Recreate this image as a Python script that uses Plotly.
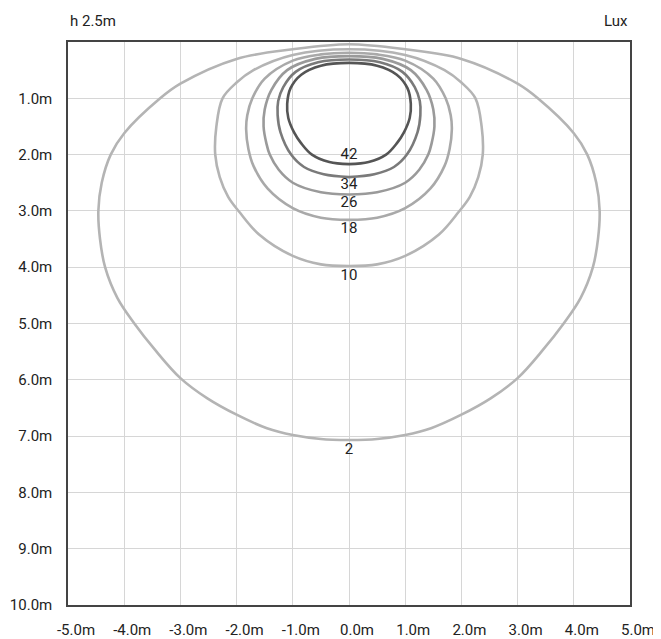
import plotly.graph_objects as go

# Isolux levels (lux) and their line colours
levels = [2, 10, 18, 26, 34, 42]
colors = ["#b4b4b4", "#b4b4b4", "#a9a9a9", "#9a9a9a", "#7a7a7a", "#555555"]

# Right-half profiles of each isolux curve (x in m, depth y in m), top centre -> bottom centre
xr_2 = [0, 1.0, 2.0, 3.0, 3.36, 4.0, 4.24, 4.40, 4.46, 4.43, 4.34, 4.12, 3.82, 3.45, 3.0, 2.52, 2.0, 1.46, 1.0, 0.5, 0]
y_2 = [0.04, 0.13, 0.30, 0.74, 1.0, 1.62, 2.0, 2.5, 3.0, 3.5, 4.0, 4.55, 5.0, 5.47, 5.97, 6.33, 6.62, 6.86, 6.98, 7.05, 7.07]

xr_10 = [0, 1.0, 1.7, 2.0, 2.25, 2.36, 2.38, 2.30, 2.15, 1.95, 1.6, 1.0, 0.5, 0]
y_10 = [0.13, 0.23, 0.50, 0.72, 1.0, 1.5, 2.0, 2.4, 2.75, 3.02, 3.42, 3.80, 3.95, 3.98]

xr_18 = [0, 0.5, 1.0, 1.5, 1.72, 1.81, 1.83, 1.79, 1.70, 1.45, 1.0, 0.5, 0]
y_18 = [0.19, 0.22, 0.33, 0.65, 1.0, 1.3, 1.55, 1.9, 2.2, 2.6, 2.95, 3.12, 3.16]

xr_26 = [0, 0.6, 1.1, 1.38, 1.50, 1.52, 1.47, 1.41, 1.25, 1.0, 0.5, 0]
y_26 = [0.25, 0.30, 0.50, 0.85, 1.2, 1.5, 1.8, 2.0, 2.27, 2.5, 2.67, 2.71]

xr_34 = [0, 0.55, 0.95, 1.17, 1.26, 1.27, 1.22, 1.03, 0.80, 0.45, 0]
y_34 = [0.31, 0.36, 0.53, 0.80, 1.05, 1.3, 1.6, 2.0, 2.22, 2.35, 2.40]

xr_42 = [0, 0.5, 0.85, 1.04, 1.10, 1.08, 0.98, 0.85, 0.66, 0.35, 0]
y_42 = [0.37, 0.42, 0.58, 0.82, 1.1, 1.35, 1.6, 1.8, 2.0, 2.13, 2.17]

profiles = [(xr_2, y_2), (xr_10, y_10), (xr_18, y_18), (xr_26, y_26), (xr_34, y_34), (xr_42, y_42)]

# Label positions (depth, m) at x = 0
label_x = [0, 0, 0, 0, 0, 0]
label_y = [7.25, 4.16, 3.33, 2.87, 2.55, 2.02]

x_ticks = [-5, -4, -3, -2, -1, 0, 1, 2, 3, 4, 5]
x_ticktext = ["-5.0m", "-4.0m", "-3.0m", "-2.0m", "-1.0m", "0.0m", "1.0m", "2.0m", "3.0m", "4.0m", "5.0m"]
y_ticks = [1, 2, 3, 4, 5, 6, 7, 8, 9, 10]
y_ticktext = ["1.0m", "2.0m", "3.0m", "4.0m", "5.0m", "6.0m", "7.0m", "8.0m", "9.0m", "10.0m"]

FONT = "Roboto"
TXT = "#222222"
FS = 15

fig = go.Figure()
for (xr, yy), c in zip(profiles, colors):
    xs = [-v for v in xr] + xr[::-1]
    ys = list(yy) + yy[::-1]
    fig.add_trace(go.Scatter(x=xs, y=ys, mode="lines",
                             line=dict(color=c, width=2.6, shape="spline", smoothing=1.0),
                             hoverinfo="skip"))

fig.add_trace(go.Scatter(x=label_x, y=label_y, mode="text",
                         text=[str(v) for v in levels],
                         textfont=dict(family=FONT, size=FS, color=TXT),
                         hoverinfo="skip"))

# page body has an 8px default margin, so the figure is sized/margined to compensate
fig.update_layout(
    width=653, height=631,
    margin=dict(l=60, r=31, t=34, b=34),
    paper_bgcolor="white", plot_bgcolor="white",
    showlegend=False, hovermode=False,
    font=dict(family=FONT, size=FS, color=TXT),
    xaxis=dict(range=[-5, 5], tickvals=x_ticks, ticktext=x_ticktext,
               showgrid=True, gridcolor="#d6d6d6", gridwidth=1,
               showline=True, linecolor="#444444", linewidth=1.5, mirror=True,
               zeroline=False, ticks="", ticklabelstandoff=10, ticklabelshift=8,
               automargin=False,
               tickfont=dict(family=FONT, size=FS, color=TXT), fixedrange=True),
    yaxis=dict(range=[10, 0], tickvals=y_ticks, ticktext=y_ticktext,
               showgrid=True, gridcolor="#d6d6d6", gridwidth=1,
               showline=True, linecolor="#444444", linewidth=1.5, mirror=True,
               zeroline=False, ticks="", ticklabelstandoff=11,
               automargin=False,
               tickfont=dict(family=FONT, size=FS, color=TXT), fixedrange=True),
    annotations=[
        dict(text="h 2.5m", xref="paper", yref="paper", x=0, y=1, xanchor="left",
             yanchor="middle", yshift=21, showarrow=False,
             font=dict(family=FONT, size=FS, color=TXT)),
        dict(text="Lux", xref="paper", yref="paper", x=1, y=1, xanchor="right",
             yanchor="middle", yshift=21, showarrow=False,
             font=dict(family=FONT, size=FS, color=TXT)),
    ],
)

fig.write_html("out.html")
